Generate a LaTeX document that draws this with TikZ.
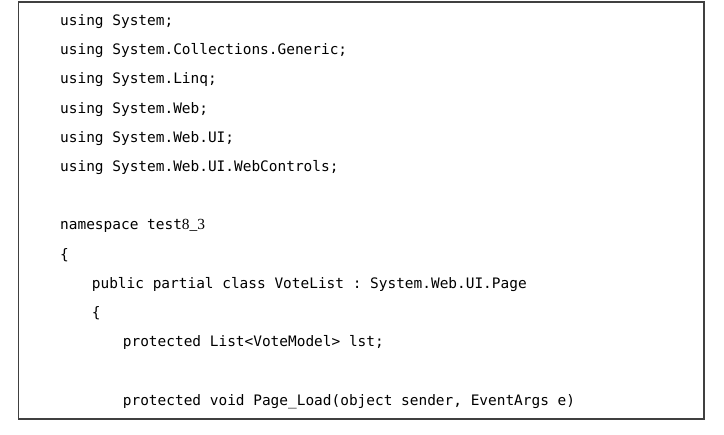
\documentclass[tikz,border=0pt]{standalone}
\usepackage{fontspec}
\setmonofont{DejaVu Sans Mono}
\newfontfamily\numfont{Liberation Serif}
\tikzset{
  code/.style={anchor=base west, inner sep=0pt, font=\ttfamily\fontsize{14.5}{16}\selectfont},
  frame/.style={draw=black!75, line width=1.2pt}
}
\begin{document}
\begin{tikzpicture}[x=1bp, y=-1bp]
    \useasboundingbox (0, 0) rectangle (724, 435);
    \draw[frame] (18.5, 2) rectangle (704, 419);

    % usings
    \node[code] (use1) at (60, 25.6) {using System;};
    \node[code] (use2) at (60, 54.8) {using System.Collections.Generic;};
    \node[code] (use3) at (60, 84.0) {using System.Linq;};
    \node[code] (use4) at (60, 113.2) {using System.Web;};
    \node[code] (use5) at (60, 142.4) {using System.Web.UI;};
    \node[code] (use6) at (60, 171.6) {using System.Web.UI.WebControls;};

    % namespace and class
    \node[code] (ns) at (60, 230.0) {namespace test{\numfont\fontsize{15.5}{16}\selectfont 8\_3}};
    \node[code] (nsopen) at (60, 259.2) {\{};
    \node[code] (cls) at (91.7, 288.4) {public partial class VoteList : System.Web.UI.Page};
    \node[code] (clsopen) at (91.7, 317.6) {\{};
    \node[code] (field) at (122.7, 346.8) {protected List<VoteModel> lst;};
    \node[code] (load) at (122.7, 405.2) {protected void Page\_Load(object sender, EventArgs e)};
\end{tikzpicture}
\end{document}
